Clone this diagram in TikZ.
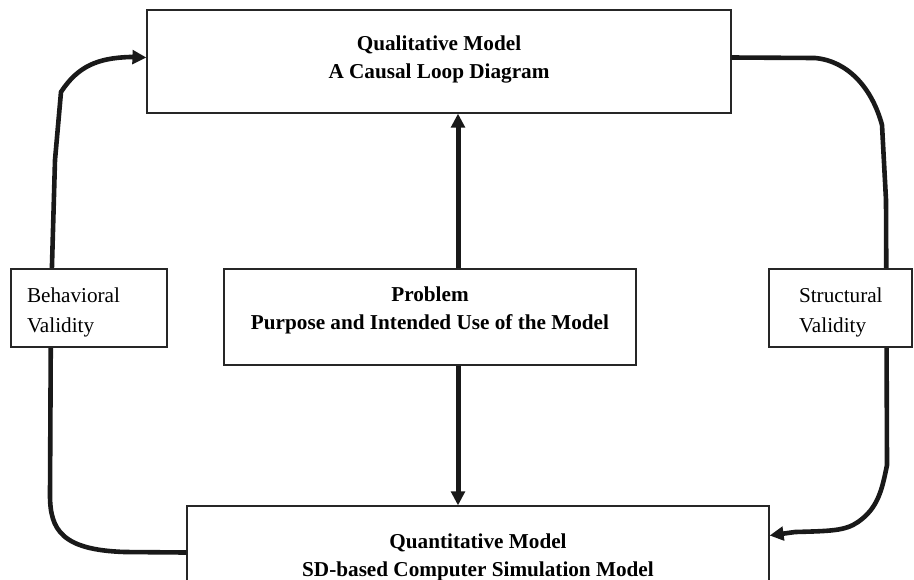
\documentclass[tikz,border=0pt]{standalone}
\usepackage{fontspec}
\setmainfont{Liberation Serif}
\usetikzlibrary{arrows.meta}

\begin{document}
\begin{tikzpicture}[x=0.5pt,y=-0.5pt]
% Styles
\tikzset{model/.style={draw=black!85, line width=0.6pt, inner sep=0pt},
  modeltext/.style={font=\fontsize{10.6}{14}\selectfont\bfseries, align=center},
  valid/.style={draw=black!85, fill=white, line width=0.6pt, inner ysep=0pt, align=left,
    minimum height=39pt, font=\fontsize{10.6}{15}\selectfont},
  loopline/.style={line width=2.3pt, black!90, line join=round},
  tip/.style={-{Triangle[length=7pt,width=6.8pt]}}}
% Frame of the picture
\useasboundingbox (0,0) rectangle (914,579);
\clip (0,0) rectangle (914,579);
% The three model boxes
\node[model, minimum width=292pt, minimum height=51.5pt,
  label={[modeltext, yshift=1pt]center:Qualitative Model\\A Causal Loop Diagram}]
  (qual) at (439,61.5) {};
\node[model, minimum width=206pt, minimum height=48pt,
  label={[modeltext, yshift=3.5pt]center:Problem\\Purpose and Intended Use of the Model}]
  (prob) at (430,317) {};
\node[model, minimum width=291pt, minimum height=51.5pt,
  label={[modeltext, yshift=0pt]center:Quantitative Model\\SD-based Computer Simulation Model}]
  (quan) at (478,557.5) {};
% Arrows from the problem
\coordinate (spine) at (458,0);
\draw[loopline, line width=2.5pt, tip] (prob.north -| spine) -- (qual.south -| spine);
\draw[loopline, line width=2.5pt, tip] (prob.south -| spine) -- (quan.north -| spine);
% Behavioral loop (left)
\draw[loopline, tip] ([yshift=2.5pt]quan.west) -- (125,552)
  .. controls (62,550) and (50,530) .. (50,495) -- (51,300) -- (55,160)
  -- (61,92) .. controls (78,66) and (98,58) .. (130,57) -- ([yshift=2pt]qual.west);
% Structural loop (right)
\draw[loopline, tip] ([yshift=2pt]qual.east) -- (815,58)
  .. controls (848,61) and (872,88) .. (882,125) -- (886,200) -- (887,465)
  .. controls (882,490) and (878,508) .. (858,522)
  .. controls (845,531) and (830,531) .. (795,532) -- ([yshift=11pt]quan.east);
% The two validity boxes, over the loops
\node[valid, minimum width=78pt, inner xsep=8pt, text width=62pt]
  (behav) at (89,308) {\rule{0pt}{11.5pt}Behavioral\\Validity};
\node[valid, minimum width=71.5pt, inner xsep=15pt, text width=41.5pt]
  (struct) at (840.5,308) {\rule{0pt}{11.5pt}Structural\\Validity};
\end{tikzpicture}
\end{document}
